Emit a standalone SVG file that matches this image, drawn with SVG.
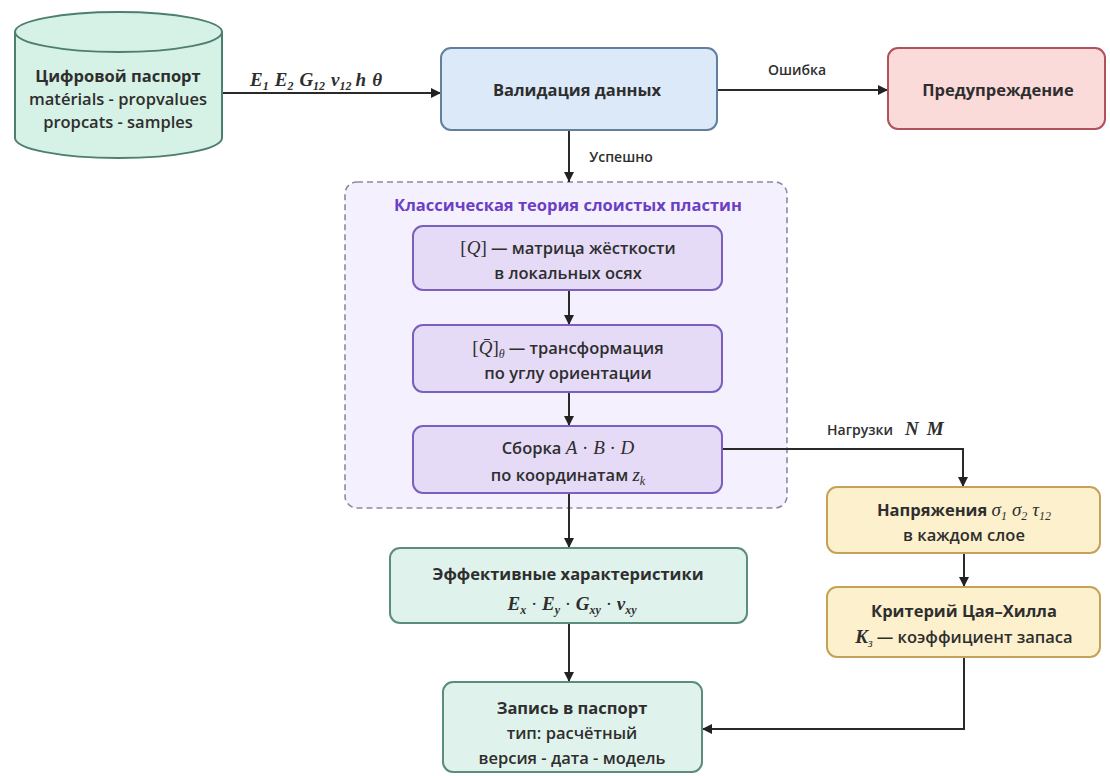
<svg xmlns="http://www.w3.org/2000/svg" width="1110" height="776" viewBox="0 0 1110 776">
<defs>
<marker id="ah" viewBox="0 0 10 10" refX="10" refY="5" markerWidth="10" markerHeight="10" markerUnits="userSpaceOnUse" orient="auto">
<path d="M0,0 L10,5 L0,10 z" fill="#222"/>
</marker>
</defs>
<style>
.t{font-family:"Open Sans","Noto Sans","Liberation Sans",sans-serif;font-weight:600;font-size:16.5px;fill:#2e2e2e;text-anchor:middle}
.b{font-weight:700}
.s{font-size:14px}
.mi{font-family:"Liberation Serif","DejaVu Serif",serif;font-style:italic;font-weight:400;font-size:19px}
.mb{font-weight:700}
.mr{font-family:"Liberation Serif","DejaVu Serif",serif;font-style:normal;font-weight:400;font-size:19px}
.sb{font-size:12px}
.edge{fill:none;stroke:#2a2a2a;stroke-width:2}
.cyl{fill:#d6f1e5;stroke:#4d7f70;stroke-width:2}
.val{fill:#dce9f8;stroke:#637f9f;stroke-width:2}
.warn{fill:#fbdada;stroke:#b0525a;stroke-width:2}
.clu{fill:#f5f0fd;stroke:#8a8a9e;stroke-width:1.6;stroke-dasharray:6 4}
.pur{fill:#e5dbf7;stroke:#7a5fbf;stroke-width:2}
.grn{fill:#dff3ec;stroke:#5b8c7c;stroke-width:2}
.yel{fill:#fcf0cd;stroke:#c5a257;stroke-width:2}
</style>
<rect width="1110" height="776" fill="#ffffff"/>

<g id="cluster-clt">
<rect class="clu" x="345" y="182" width="442" height="326" rx="12"/>
<text class="t b" x="568" y="211" style="fill:#6b3fc4">Классическая теория слоистых пластин</text>
</g>

<g id="connectors">
<line class="edge" x1="222" y1="93" x2="441" y2="93" marker-end="url(#ah)"/>
<line class="edge" x1="717" y1="90" x2="888" y2="90" marker-end="url(#ah)"/>
<line class="edge" x1="569" y1="130" x2="569" y2="182" marker-end="url(#ah)"/>
<line class="edge" x1="569" y1="290" x2="569" y2="325" marker-end="url(#ah)"/>
<line class="edge" x1="569" y1="392" x2="569" y2="426" marker-end="url(#ah)"/>
<polyline class="edge" points="722,449 963,449 963,487" marker-end="url(#ah)"/>
<line class="edge" x1="569" y1="493" x2="569" y2="548" marker-end="url(#ah)"/>
<line class="edge" x1="569" y1="623" x2="569" y2="682" marker-end="url(#ah)"/>
<line class="edge" x1="964" y1="553" x2="964" y2="587" marker-end="url(#ah)"/>
<polyline class="edge" points="964,657 964,729 702,729" marker-end="url(#ah)"/>
<text class="mi mb" x="250" y="86" fill="#2e2e2e">E<tspan class="sb" dy="4">1</tspan><tspan dy="-4" dx="6">E</tspan><tspan class="sb" dy="4">2</tspan><tspan dy="-4" dx="6">G</tspan><tspan class="sb" dy="4">12</tspan><tspan dy="-4" dx="6">ν</tspan><tspan class="sb" dy="4">12</tspan><tspan dy="-4" dx="4">h</tspan><tspan dx="6">θ</tspan></text>
<text class="t s" x="797" y="75">Ошибка</text>
<text class="t s" x="621" y="162">Успешно</text>
<text class="t s" x="827" y="435" style="text-anchor:start">Нагрузки<tspan class="mi mb" dx="12">N</tspan><tspan class="mi mb" dx="8">M</tspan></text>
</g>

<g id="passport">
<path class="cyl" d="M15,32 L15,138 A103.5,20 0 0 0 222,138 L222,32"/>
<ellipse class="cyl" cx="118.5" cy="32" rx="103.5" ry="20"/>
<text class="t b" x="118" y="82">Цифровой паспорт</text>
<text class="t" x="118" y="105">matérials - propvalues</text>
<text class="t" x="118" y="128">propcats - samples</text>
</g>

<g id="validation">
<rect class="val" x="441" y="48" width="276" height="82" rx="10"/>
<text class="t b" x="577" y="96">Валидация данных</text>
</g>

<g id="warning">
<rect class="warn" x="888" y="48" width="217" height="81" rx="10"/>
<text class="t b" x="998" y="96">Предупреждение</text>
</g>

<g id="q-matrix">
<rect class="pur" x="413" y="226" width="309" height="64" rx="10"/>
<text class="t" x="568" y="254"><tspan class="mr">[</tspan><tspan class="mi">Q</tspan><tspan class="mr">]</tspan> — матрица жёсткости</text>
<text class="t" x="568" y="279">в локальных осях</text>
</g>

<g id="q-transform">
<rect class="pur" x="413" y="325" width="309" height="67" rx="10"/>
<text class="t" x="568" y="354"><tspan class="mr">[</tspan><tspan class="mi">Q̄</tspan><tspan class="mr">]</tspan><tspan class="mi sb" dy="4">θ</tspan><tspan dy="-4" dx="4">— трансформация</tspan></text>
<text class="t" x="568" y="379">по углу ориентации</text>
</g>

<g id="abd">
<rect class="pur" x="413" y="426" width="309" height="67" rx="10"/>
<text class="t" x="568" y="454">Сборка <tspan class="mi">A</tspan><tspan class="mr"> · </tspan><tspan class="mi">B</tspan><tspan class="mr"> · </tspan><tspan class="mi">D</tspan></text>
<text class="t" x="568" y="481">по координатам <tspan class="mi">z</tspan><tspan class="mi sb" dy="4">k</tspan></text>
</g>

<g id="effective">
<rect class="grn" x="390" y="548" width="357" height="75" rx="10"/>
<text class="t b" x="568" y="580">Эффективные характеристики</text>
<text class="mi mb" x="572" y="610" text-anchor="middle" fill="#2e2e2e">E<tspan class="sb" dy="4">x</tspan><tspan dy="-4" class="mr"> · </tspan>E<tspan class="sb" dy="4">y</tspan><tspan dy="-4" class="mr"> · </tspan>G<tspan class="sb" dy="4">xy</tspan><tspan dy="-4" class="mr"> · </tspan>ν<tspan class="sb" dy="4">xy</tspan></text>
</g>

<g id="record">
<rect class="grn" x="443" y="682" width="259" height="90" rx="10"/>
<text class="t b" x="572" y="714">Запись в паспорт</text>
<text class="t" x="572" y="739">тип: расчётный</text>
<text class="t" x="572" y="764">версия - дата - модель</text>
</g>

<g id="stress">
<rect class="yel" x="827" y="487" width="273" height="66" rx="10"/>
<text class="t b" x="964" y="516">Напряжения <tspan class="mi">σ</tspan><tspan class="mi sb" dy="4">1</tspan><tspan class="mi" dy="-4" dx="5">σ</tspan><tspan class="mi sb" dy="4">2</tspan><tspan class="mi" dy="-4" dx="5">τ</tspan><tspan class="mi sb" dy="4">12</tspan></text>
<text class="t" x="964" y="541">в каждом слое</text>
</g>

<g id="tsai-hill">
<rect class="yel" x="827" y="587" width="273" height="70" rx="10"/>
<text class="t b" x="964" y="617">Критерий Цая–Хилла</text>
<text class="t" x="964" y="643"><tspan class="mi mb">K</tspan><tspan class="mi sb" dy="4">з</tspan><tspan dy="-4" dx="4">— коэффициент запаса</tspan></text>
</g>
</svg>
